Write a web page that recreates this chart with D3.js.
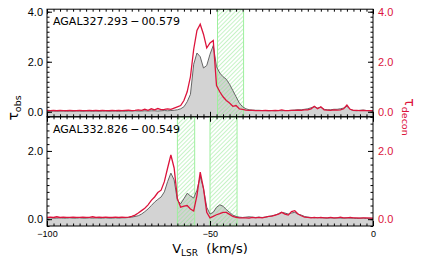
<!DOCTYPE html>
<html>
<head>
<meta charset="utf-8">
<script src="https://cdn.jsdelivr.net/npm/d3@7"></script>
<style>
  body { margin: 0; background: #fff; }
  svg { font-family: "DejaVu Sans", sans-serif; }
  text { white-space: pre; }
</style>
</head>
<body>
<svg id="chart"></svg>
<script>
// velocity channels, 1 km/s
let vel = d3.range(-100, 1, 1);

let names = ["AGAL327.293\u2009\u2212\u200900.579", "AGAL332.826\u2009\u2212\u200900.549"];

// top source: observed / deconvolved optical depth
let obs1 = [
  0.03,0.02,0.03,0.02,0.03,0.03,0.02,0.03,0.02,0.03,
  0.03,0.02,0.03,0.03,0.02,0.03,0.02,0.03,0.03,0.02,
  0.03,0.03,0.02,0.03,0.02,0.03,0.03,0.04,0.03,0.03,
  0.04,0.03,0.04,0.04,0.03,0.04,0.05,0.04,0.05,0.06,
  0.08,0.12,0.2,0.4,0.7,1.9,2.35,2.2,1.75,1.85,
  2.3,2.65,1.8,1.55,1.4,1.3,1.1,0.85,0.6,0.35,
  0.2,0.12,0.08,0.07,0.06,0.06,0.05,0.05,0.04,0.05,
  0.04,0.05,0.04,0.05,0.05,0.06,0.07,0.08,0.08,0.1,
  0.12,0.16,0.2,0.15,0.18,0.1,0.08,0.08,0.1,0.1,
  0.12,0.15,0.22,0.1,0.05,0.04,0.06,0.07,0.05,0.04,
  0.04];
let dec1 = [
  0.06,0.05,0.06,0.05,0.06,0.05,0.05,0.06,0.05,0.05,
  0.06,0.05,0.05,0.06,0.05,0.06,0.05,0.06,0.05,0.05,
  0.06,0.05,0.06,0.05,0.06,0.07,0.05,0.06,0.08,0.06,
  0.1,0.06,0.12,0.08,0.13,0.09,0.1,0.12,0.1,0.15,
  0.2,0.25,0.45,0.8,1.4,2.5,3.25,3.5,3.1,2.55,
  2.75,2.85,1.05,0.8,0.6,0.45,0.35,0.22,0.25,0.12,
  0.1,0.07,0.06,0.06,0.05,0.05,0.05,0.06,0.05,0.05,
  0.06,0.05,0.08,0.05,0.05,0.06,0.06,0.07,0.06,0.08,
  0.08,0.12,0.22,0.12,0.2,0.08,0.07,0.06,0.08,0.07,
  0.08,0.12,0.27,0.1,0.06,0.06,0.05,0.06,0.05,0.05,
  0.04];

// bottom source
let obs2 = [
  0.03,0.04,0.03,0.03,0.04,0.03,0.03,0.04,0.03,0.03,
  0.04,0.03,0.03,0.04,0.03,0.04,0.03,0.03,0.04,0.03,
  0.03,0.04,0.03,0.04,0.04,0.05,0.06,0.08,0.1,0.15,
  0.22,0.3,0.4,0.5,0.58,0.65,0.8,1.1,1.35,1.15,
  0.55,0.45,0.6,0.76,0.68,0.62,0.85,1.25,0.9,0.35,
  0.15,0.2,0.35,0.42,0.38,0.28,0.2,0.12,0.08,0.06,
  0.05,0.06,0.07,0.06,0.05,0.06,0.05,0.06,0.08,0.1,
  0.12,0.16,0.2,0.18,0.15,0.18,0.2,0.15,0.12,0.08,
  0.06,0.05,0.04,0.05,0.04,0.04,0.03,0.04,0.03,0.04,
  0.03,0.03,0.04,0.03,0.03,0.02,0.03,0.03,0.02,0.03,
  0.02];
let dec2 = [
  0.05,0.06,0.05,0.07,0.05,0.06,0.05,0.05,0.06,0.05,
  0.05,0.06,0.05,0.05,0.07,0.05,0.06,0.05,0.06,0.05,
  0.05,0.06,0.05,0.06,0.05,0.06,0.08,0.12,0.18,0.25,
  0.32,0.42,0.55,0.65,0.78,0.85,1.1,1.5,1.88,1.5,
  0.6,0.35,0.38,0.4,0.3,0.24,0.7,1.38,0.9,0.2,
  0.04,0.08,0.13,0.16,0.2,0.2,0.14,0.08,0.05,0.04,
  0.04,0.04,0.03,0.05,0.04,0.05,0.04,0.06,0.08,0.09,
  0.12,0.15,0.2,0.15,0.12,0.22,0.25,0.15,0.1,0.06,
  0.05,0.04,0.05,0.04,0.05,0.04,0.04,0.05,0.04,0.04,
  0.06,0.04,0.04,0.05,0.04,0.04,0.03,0.04,0.04,0.03,
  0.03];

// hatched velocity ranges
let bands1 = [[-47.7, -39.7]];
let bands2 = [[-60, -54.7], [-50, -41.7]];

let xTicks = [-100, -50, 0];
let yTicks1 = [0, 2, 4];
let yTicks2 = [0, 2];

let red = "#dc143c";

//svg
let svg = d3.select("#chart")
   .attr("width", 424)
   .attr("height", 263);

// hatch pattern
svg.append("defs").append("pattern")
   .attr("id", "hatch")
   .attr("patternUnits", "userSpaceOnUse")
   .attr("width", 3)
   .attr("height", 3)
   .attr("patternTransform", "rotate(45)")
   .append("line")
   .attr("x1", 0).attr("y1", 0).attr("x2", 0).attr("y2", 3)
   .attr("stroke", "#8ee88e")
   .attr("stroke-width", 1);

let left = 47, right = 373;
let x = d3.scaleLinear().domain([-100, 0]).range([left, right]);

function panel(top, bottom, ymax, obs, dec, bands, yTicks, name, last) {
  let y = d3.scaleLinear().domain([-0.2, ymax]).range([bottom, top]);
  let g = svg.append("g");

  let clip = "clip" + Math.round(top);
  g.append("clipPath").attr("id", clip)
     .append("rect")
     .attr("x", left).attr("y", top)
     .attr("width", right - left).attr("height", bottom - top);

  let plot = g.append("g").attr("clip-path", "url(#" + clip + ")");

  // observed spectrum, filled down to the bottom of the box
  plot.append("path")
     .datum(obs)
     .attr("fill", "#d3d3d3")
     .attr("d", d3.area().x((d, i) => x(vel[i])).y0(y(-0.2)).y1(d => y(d)));

  // hatched regions
  bands.forEach(b => {
    plot.append("rect")
       .attr("x", x(b[0])).attr("y", top)
       .attr("width", x(b[1]) - x(b[0])).attr("height", bottom - top)
       .attr("fill", "url(#hatch)")
       .attr("stroke", "#9ef09e")
       .attr("stroke-width", 1);
  });

  plot.append("path")
     .datum(obs)
     .attr("fill", "none")
     .attr("stroke", "#666")
     .attr("stroke-width", 1)
     .attr("d", d3.line().x((d, i) => x(vel[i])).y(d => y(d)));

  plot.append("path")
     .datum(dec)
     .attr("fill", "none")
     .attr("stroke", red)
     .attr("stroke-width", 1.3)
     .attr("d", d3.line().x((d, i) => x(vel[i])).y(d => y(d)));

  // minor ticks (inward, all sides)
  let minorY = d3.range(-0.2, ymax + 0.01, 0.2);
  let minorX = d3.range(-100, 0.1, 2);
  g.append("g").attr("transform", `translate(${left},0)`)
     .call(d3.axisLeft(y).tickValues(minorY).tickSize(-2.5).tickFormat(""));
  g.append("g").attr("transform", `translate(${right},0)`)
     .call(d3.axisRight(y).tickValues(minorY).tickSize(-2.5).tickFormat(""));
  g.append("g").attr("transform", `translate(0,${top})`)
     .call(d3.axisTop(x).tickValues(minorX).tickSize(-2.5).tickFormat(""));
  g.append("g").attr("transform", `translate(0,${bottom})`)
     .call(d3.axisBottom(x).tickValues(minorX).tickSize(-2.5).tickFormat(""));

  // major ticks
  let yl = g.append("g").attr("transform", `translate(${left},0)`)
     .call(d3.axisLeft(y).tickValues(yTicks).tickFormat(d3.format(".1f")).tickSize(-5).tickPadding(4));
  yl.selectAll("text").attr("font-size", 11).attr("fill", "#000");

  let yr = g.append("g").attr("transform", `translate(${right},0)`)
     .call(d3.axisRight(y).tickValues(yTicks).tickFormat(d3.format(".1f")).tickSize(-5).tickPadding(5));
  yr.selectAll("text").attr("font-size", 11).attr("fill", red);

  g.append("g").attr("transform", `translate(0,${top})`)
     .call(d3.axisTop(x).tickValues(xTicks).tickSize(-5).tickFormat(""));
  let xb = g.append("g").attr("transform", `translate(0,${bottom})`)
     .call(d3.axisBottom(x).tickValues(xTicks).tickSize(-5).tickPadding(4.5)
       .tickFormat(last ? d3.format("d") : ""));
  xb.selectAll("text").attr("font-size", 9).attr("fill", "#000");

  g.selectAll(".domain").remove();
  g.selectAll(".tick line").attr("stroke", "#000");

  g.append("rect")
     .attr("x", left).attr("y", top)
     .attr("width", right - left).attr("height", bottom - top)
     .attr("fill", "none").attr("stroke", "#000").attr("stroke-width", 1);

  g.append("text")
     .attr("x", 53).attr("y", top + 16)
     .attr("font-size", 11)
     .text(name);
}

panel(9.2, 116.8, 4.1, obs1, dec1, bands1, yTicks1, names[0], false);
panel(116.8, 226, 3.0, obs2, dec2, bands2, yTicks2, names[1], true);

// axis titles
let yLab = svg.append("text")
   .attr("transform", "translate(18,108) rotate(-90)")
   .attr("text-anchor", "middle");
yLab.append("tspan").attr("font-size", 14).text("\u03c4");
yLab.append("tspan").attr("font-size", 9.5).attr("dy", 3).text("obs");

let rLab = svg.append("text")
   .attr("transform", "translate(405,117) rotate(90)")
   .attr("text-anchor", "middle")
   .attr("fill", red);
rLab.append("tspan").attr("font-size", 14).text("\u03c4");
rLab.append("tspan").attr("font-size", 9.5).attr("dy", 3).text("decon");

let xLab = svg.append("text")
   .attr("x", 210).attr("y", 253)
   .attr("text-anchor", "middle");
xLab.append("tspan").attr("font-size", 13).text("V");
xLab.append("tspan").attr("font-size", 9).attr("dy", 3).text("LSR");
xLab.append("tspan").attr("font-size", 13).attr("dy", -3).text("  (km/s)");
</script>
</body>
</html>
